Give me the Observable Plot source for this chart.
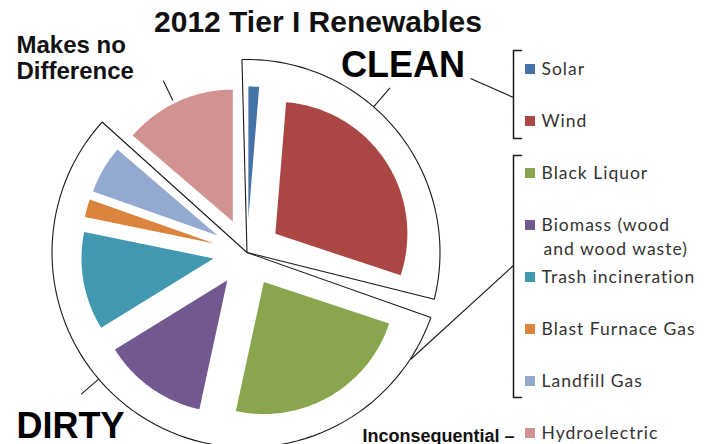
<!DOCTYPE html>
<html><head><meta charset="utf-8">
<script src="https://cdn.jsdelivr.net/npm/d3@7"></script>
<script src="https://cdn.jsdelivr.net/npm/@observablehq/plot@0.6"></script>
<style>html,body{margin:0;padding:0;background:#fff;} #chart svg{display:block;background:#fff}
#chart g[font-family^="Lato"] text{letter-spacing:1px}</style>
</head><body><div id="chart"></div>
<script>
// ---- data ----
const sources = ["Solar", "Wind", "Black Liquor", "Biomass (wood and wood waste)", "Trash incineration", "Blast Furnace Gas", "Landfill Gas", "Hydroelectric"];
const shares = [1.3, 28.8, 23.3, 12.8, 12.0, 2.2, 5.9, 13.7];
const colors = ["#4572A7", "#AA4643", "#89A54E", "#71588F", "#4198AF", "#DB843D", "#93A9CF", "#D19392"];
const legendLabels = [["Solar"], ["Wind"], ["Black Liquor"], ["Biomass (wood", "and wood waste)"], ["Trash incineration"], ["Blast Furnace Gas"], ["Landfill Gas"], ["Hydroelectric"]];
const groupLabels = ["CLEAN", "DIRTY", "Makes no\nDifference", "Inconsequential –"];
const titleText = "2012 Tier I Renewables";

// ---- layout ----
const W = 706, H = 444;
const cx = 246.5, cy = 252, R = 132, explode = 34;
const deg = Math.PI / 180;
const pol = (a, r, ox = 0, oy = 0) => [cx + ox + r * Math.sin(a), cy + oy - r * Math.cos(a)];

const arcs = d3.pie().sort(null).value(d => d)(shares);
const slicePts = arcs.flatMap((a, i) => {
  const mid = (a.startAngle + a.endAngle) / 2;
  const ox = explode * Math.sin(mid), oy = -explode * Math.cos(mid);
  const n = Math.max(2, Math.ceil((a.endAngle - a.startAngle) / 0.02));
  const pts = [[cx + ox, cy + oy]];
  for (let k = 0; k <= n; k++) pts.push(pol(a.startAngle + (a.endAngle - a.startAngle) * k / n, R, ox, oy));
  return pts.map(p => ({name: sources[i], x: p[0], y: p[1]}));
});

// group outlines (sector shapes around clean / dirty slices)
function sector(id, a0, a1, r) {
  const pts = [[cx, cy]];
  const n = 80;
  for (let k = 0; k <= n; k++) pts.push(pol((a0 + (a1 - a0) * k / n) * deg, r));
  pts.push([cx, cy]);
  return pts.map(p => ({id, x: p[0], y: p[1]}));
}
const outlines = [...sector("clean", -1.5, 104, 193), ...sector("dirty", 109.5, 312, 195)];

// radial leader ticks
const ticks = [
  {a: 334, r1: 169, r2: 191},
  {a: 41, r1: 193, r2: 218},
  {a: 229.5, r1: 195, r2: 218}
].map(t => { const p1 = pol(t.a * deg, t.r1), p2 = pol(t.a * deg, t.r2); return {x1: p1[0], y1: p1[1], x2: p2[0], y2: p2[1]}; });

// legend
const legX = 525, legStep = 52, legY0 = 69;
const legRows = sources.map((s, i) => ({name: s, y: legY0 + i * legStep}));
const legText = legendLabels.flatMap((lines, i) => lines.map((t, j) => ({t, x: legX + 16 + (j ? 2 : 0), y: legY0 + i * legStep + j * 24})));

// brackets
const bx = legX - 12;
const brackets = [
  {id: "c", top: 50, bot: 138},
  {id: "d", top: 155, bot: 397}
].flatMap(b => [[bx + 8, b.top], [bx, b.top], [bx, b.bot], [bx + 8, b.bot]].map(p => ({id: b.id, x: p[0], y: p[1]})));
const connectors = [
  {x1: 470, y1: 78, x2: bx, y2: 97},
  {x1: 410, y1: 359, x2: bx, y2: 265}
];

const bold = "Liberation Sans, Arial, sans-serif";
const chart = Plot.plot({
  width: W, height: H, margin: 0,
  x: {domain: [0, W], range: [0, W], axis: null},
  y: {domain: [0, H], range: [0, H], axis: null},
  color: {domain: sources, range: colors},
  style: {background: "#fff"},
  marks: [
    Plot.line(slicePts, {x: "x", y: "y", z: "name", fill: "name", stroke: null, curve: "linear"}),
    Plot.line(outlines, {x: "x", y: "y", z: "id", stroke: "#1a1a1a", strokeWidth: 1.1, curve: "linear"}),
    Plot.link(ticks, {x1: "x1", y1: "y1", x2: "x2", y2: "y2", stroke: "#1a1a1a", strokeWidth: 1.1}),
    Plot.link(connectors, {x1: "x1", y1: "y1", x2: "x2", y2: "y2", stroke: "#1a1a1a", strokeWidth: 1.1}),
    Plot.line(brackets, {x: "x", y: "y", z: "id", stroke: "#1a1a1a", strokeWidth: 1.5, curve: "linear"}),
    Plot.rect(legRows, {x1: legX, x2: legX + 10, y1: d => d.y - 5, y2: d => d.y + 5, fill: "name"}),
    Plot.text(legText, {x: "x", y: "y", text: "t", textAnchor: "start", lineAnchor: "middle", fontFamily: "Lato, sans-serif", fontSize: 17.5, fill: "#333"}),
    Plot.text([titleText], {x: 317.5, y: 31, text: d => d, lineAnchor: "bottom", fontFamily: bold, fontWeight: "bold", fontSize: 30, fill: "#111"}),
    Plot.text([groupLabels[0]], {x: 402.5, y: 76, text: d => d, lineAnchor: "bottom", fontFamily: bold, fontWeight: "bold", fontSize: 36, fill: "#000"}),
    Plot.text([groupLabels[1]], {x: 16, y: 437, text: d => d, textAnchor: "start", lineAnchor: "bottom", fontFamily: bold, fontWeight: "bold", fontSize: 36, fill: "#000"}),
    Plot.text([groupLabels[2]], {x: 16, y: 78, text: d => d, textAnchor: "start", lineAnchor: "bottom", lineHeight: 1.08, fontFamily: bold, fontWeight: "bold", fontSize: 24, fill: "#111"}),
    Plot.text([groupLabels[3]], {x: 362, y: 441, text: d => d, textAnchor: "start", lineAnchor: "bottom", fontFamily: bold, fontWeight: "bold", fontSize: 18, fill: "#111"})
  ]
});
document.getElementById("chart").append(chart);
</script>
</body></html>
